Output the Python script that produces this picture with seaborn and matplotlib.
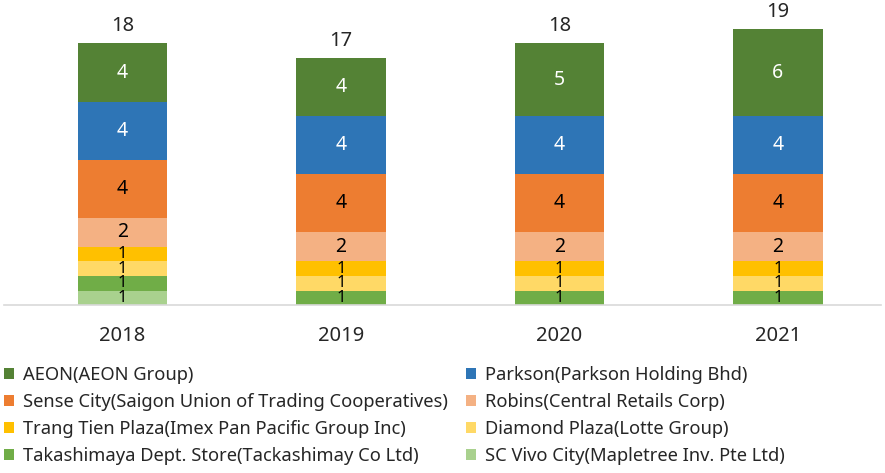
import matplotlib
matplotlib.use("Agg")
import matplotlib.pyplot as plt
import seaborn as sns
import pandas as pd
import numpy as np

years = ["2018", "2019", "2020", "2021"]

# stacked from bottom to top
sc_vivo = [1, 0, 0, 0]
takashimaya = [1, 1, 1, 1]
diamond = [1, 1, 1, 1]
trang_tien = [1, 1, 1, 1]
robins = [2, 2, 2, 2]
sense_city = [4, 4, 4, 4]
parkson = [4, 4, 4, 4]
aeon = [4, 4, 5, 6]

series = [
    ("SC Vivo City(Mapletree Inv. Pte Ltd)", sc_vivo, "#A9D18E", "black"),
    ("Takashimaya Dept. Store(Tackashimay Co Ltd)", takashimaya, "#70AD47", "black"),
    ("Diamond Plaza(Lotte Group)", diamond, "#FFD966", "black"),
    ("Trang Tien Plaza(Imex Pan Pacific Group Inc)", trang_tien, "#FFC000", "black"),
    ("Robins(Central Retails Corp)", robins, "#F4B183", "black"),
    ("Sense City(Saigon Union of Trading Cooperatives)", sense_city, "#ED7D31", "black"),
    ("Parkson(Parkson Holding Bhd)", parkson, "#2E75B6", "white"),
    ("AEON(AEON Group)", aeon, "#548235", "white"),
]

sns.set_style("white")
plt.rcParams['font.family'] = ['Noto Sans', 'DejaVu Sans']

fig = plt.figure(figsize=(8.85, 4.73), dpi=100)
ax = fig.add_axes([0.005, 0.355, 0.99, 0.63])

bottom = np.zeros(len(years))
handles = {}
for name, vals, color, txt_color in series:
    df = pd.DataFrame({"year": years, "value": vals})
    sns.barplot(data=df, x="year", y="value", bottom=bottom, color=color,
                width=0.41, ax=ax, linewidth=0, saturation=1, label=name)
    handles[name] = ax.containers[-1].patches[0]
    for i, v in enumerate(vals):
        if v > 0:
            # small segments get a smaller label, they are cramped in the original too
            fs = 14 if v > 1 else 12
            ax.text(i, bottom[i] + v / 2, str(v), ha="center", va="center",
                    fontsize=fs, color=txt_color)
    bottom = bottom + np.array(vals)

for i, tot in enumerate(bottom):
    ax.annotate(f"{int(tot)}", (i, tot), xytext=(0, 5), textcoords="offset points",
                ha="center", va="bottom", fontsize=14.5)

ax.set_xlim(-0.54, 3.47)
ax.set_ylim(0, 20.5)
ax.set_xlabel("")
ax.set_ylabel("")
ax.set_yticks([])
ax.tick_params(axis="x", length=0, labelsize=14.5, pad=15)
for s in ["top", "left", "right"]:
    ax.spines[s].set_visible(False)
ax.spines["bottom"].set_color("#d9d9d9")
ax.spines["bottom"].set_linewidth(1.2)
if ax.get_legend() is not None:
    ax.get_legend().remove()

order = [
    "AEON(AEON Group)",
    "Sense City(Saigon Union of Trading Cooperatives)",
    "Trang Tien Plaza(Imex Pan Pacific Group Inc)",
    "Takashimaya Dept. Store(Tackashimay Co Ltd)",
    "Parkson(Parkson Holding Bhd)",
    "Robins(Central Retails Corp)",
    "Diamond Plaza(Lotte Group)",
    "SC Vivo City(Mapletree Inv. Pte Ltd)",
]
fig.legend([handles[n] for n in order], order, ncol=2, loc="upper left",
           bbox_to_anchor=(0.0, 0.235), frameon=False, fontsize=13.2,
           handlelength=0.55, handleheight=0.55, handletextpad=0.5,
           columnspacing=1.0, labelspacing=0.5, borderaxespad=0, borderpad=0.2)

fig.savefig("out.png", dpi=100)
